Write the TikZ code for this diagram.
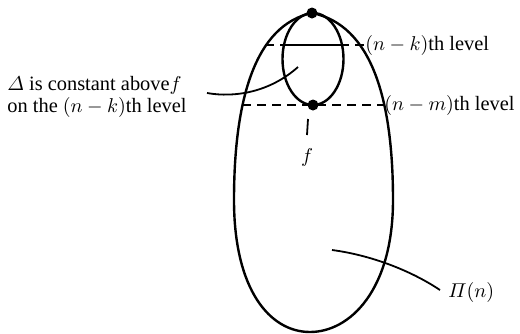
\documentclass[tikz,border=0pt]{standalone}
\usepackage{amsmath}
\usepackage{fontspec}
\setmainfont{Liberation Serif}
\usetikzlibrary{positioning}
\tikzset{
  outline/.style={line width=1.2pt},
  levelline/.style={line width=1.1pt, dash pattern=on 4.5pt off 3pt},
  leader/.style={line width=0.9pt},
  dotnode/.style={circle, fill=black, inner sep=0pt, minimum size=5.5pt},
  levellabel/.style={font=\fontsize{10.2}{11}\selectfont, inner sep=0pt, anchor=west},
}

\begin{document}
\begin{tikzpicture}[x=0.5pt, y=-0.5pt]
  \useasboundingbox (0,0) rectangle (520,333);

  % --- Outer region ---
  \draw[outline] (312,13) .. controls (372,25) and (393,100) .. (393,200)
    .. controls (393,290) and (350,332) .. (310,332)
    .. controls (270,332) and (234,290) .. (234,200)
    .. controls (234,100) and (255,25) .. (312,13);

  % --- Inner ellipse ---
  \draw[outline] (313,59) ellipse [x radius=15.25pt, y radius=23pt];

  % --- Labels ---
  \node[levellabel] (lvk) at (365,45) {$(n-k)$th level};
  \node[levellabel] (lvm) at (384,105) {$(n-m)$th level};
  \node[levellabel, align=left] (deltalab) at (7,97)
    {$\varDelta$ is constant above$f$\\on the $(n-k)$th level};
  \node[levellabel] (pilab) at (448,292) {$\varPi(n)$};
  \node[font=\fontsize{10.2}{11}\selectfont, inner sep=0pt] (flab) at (307,157) {$f$};

  % --- Levels ---
  \coordinate (lk) at (265,45);
  \coordinate (lm) at (242,105);
  \coordinate (ekl) at (284,45);
  \coordinate (ekr) at (342,45);
  \draw[levelline] (lk) -- (lvk.west);
  \draw[outline] (ekl) -- (ekr);
  \draw[levelline] (lm) -- (lvm.west);

  % --- Points ---
  \node[dotnode] (apex) at (312,13) {};
  \node[dotnode] (fdot) at (313,105) {};

  % --- Leaders ---
  \coordinate (tick) at (308,119);
  \coordinate (ftop) at (307,135);
  \draw[leader] (tick) -- (ftop);
  \coordinate (dstart) at (207,93);
  \coordinate (dend) at (298,67);
  \draw[leader] (dstart) .. controls (235,98) and (270,92) .. (dend);
  \coordinate (pend) at (332,250);
  \coordinate (pstart) at (440,290);
  \draw[leader] (pend) .. controls (370,255) and (410,270) .. (pstart);
\end{tikzpicture}
\end{document}
